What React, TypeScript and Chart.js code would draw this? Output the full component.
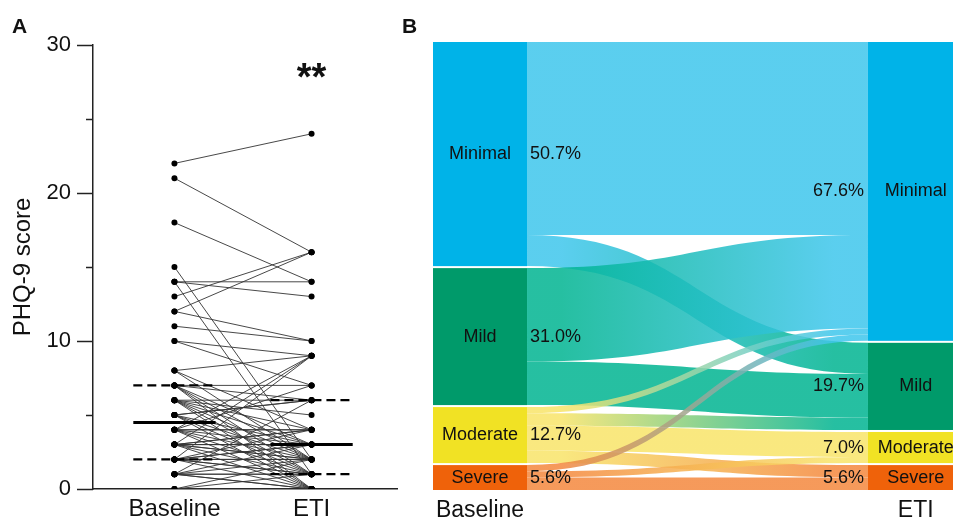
import React, { useEffect, useRef } from 'react';
import { Chart, registerables } from 'chart.js';

Chart.register(...registerables);

const FONT = '"Liberation Sans", Arial, Helvetica, sans-serif';

// ---------- Panel A data (paired PHQ-9 scores, n = 71) ----------
const groupLabels = ['Baseline', 'ETI'];
const baselineScores = [
  22, 21, 18, 15,
  14, 14, 14, 13, 12, 12, 11, 10, 10,
  8, 8, 8, 7, 7, 7, 7, 7, 7, 6, 6, 6, 6, 6, 6, 6, 5, 5, 5, 5, 5, 5,
  4, 3, 2, 4, 1,
  0, 0, 0, 1, 1, 1, 1, 1, 1, 2, 2, 2, 2, 2, 2, 2, 2, 3, 3, 3, 3, 3, 3, 3, 3, 4, 4, 4, 4, 4, 4,
];
const etiScores = [
  24, 16, 14, 2,
  14, 13, 1, 16, 16, 10, 10, 7, 9,
  9, 4, 2, 7, 6, 3, 1, 0, 2, 6, 5, 3, 0, 4, 2, 1, 6, 6, 3, 0, 2, 1,
  9, 9, 9, 7, 6,
  0, 1, 2, 0, 0, 1, 1, 2, 3, 0, 1, 1, 2, 2, 3, 3, 4, 0, 1, 2, 2, 3, 3, 4, 4, 0, 1, 2, 3, 4, 4,
];
const baselineQuartiles = [2, 4.5, 7]; // Q1, median, Q3
const etiQuartiles = [1, 3, 6];
const yTickLabels = [0, 10, 20, 30];
const yAxisTitle = 'PHQ-9 score';
const significanceLabel = '**';

// ---------- Panel B data ----------
const severityLabels = ['Minimal', 'Mild', 'Moderate', 'Severe'];
const severityLowerBounds = [0, 5, 10, 15];
const sankeyColumnLabels = ['Baseline', 'ETI'];

const nodeColors = ['#00b3e8', '#009a6a', '#f1e224', '#ef620a'];
const flowColors = [
  'rgba(62,198,236,0.85)',
  'rgba(0,180,145,0.85)',
  'rgba(248,228,105,0.85)',
  'rgba(244,136,62,0.85)',
];

const NODE_GAP = 0.32;
const BASE_NODE = [0, 0.1808];
const ETI_NODE = [0.8365, 1.02];

const severityOf = (v: number) =>
  severityLowerBounds.reduce((acc, b, i) => (v >= b ? i : acc), 0);

function PanelA() {
  const ref = useRef<HTMLCanvasElement>(null);
  useEffect(() => {
    const canvas = ref.current!;
    const half = 0.3;
    const summary = (center: number, q: number[]) =>
      q.map((v, k) => ({
        data: [
          { x: center - half, y: v },
          { x: center + half, y: v },
        ],
        showLine: true,
        borderColor: '#000',
        borderWidth: k === 1 ? 3 : 2.2,
        borderDash: k === 1 ? [] : [9, 5],
        pointRadius: 0,
        pointHoverRadius: 0,
      }));
    const pairs = baselineScores.map((b, i) => ({
      data: [
        { x: 0, y: b },
        { x: 1, y: etiScores[i] },
      ],
      showLine: true,
      borderColor: '#333',
      borderWidth: 0.9,
      pointRadius: 3,
      pointHoverRadius: 3,
      pointBackgroundColor: '#000',
      pointBorderColor: '#000',
      pointBorderWidth: 0,
    }));

    const panelAPlugin = {
      id: 'panelAExtras',
      afterDraw(chart: any) {
        const { ctx, chartArea, scales } = chart;
        const x = scales.x;
        const y = scales.y;
        ctx.save();
        ctx.strokeStyle = '#222';
        ctx.lineWidth = 1.5;
        for (let v = 0; v <= 30; v += 5) {
          const py = Math.round(y.getPixelForValue(v)) + 0.5;
          const len = v % 10 === 0 ? 16 : 7;
          ctx.beginPath();
          ctx.moveTo(chartArea.left - len, py);
          ctx.lineTo(chartArea.left, py);
          ctx.stroke();
        }
        ctx.fillStyle = '#111';
        ctx.font = `bold 38px ${FONT}`;
        ctx.textAlign = 'center';
        ctx.textBaseline = 'alphabetic';
        ctx.fillText(significanceLabel, x.getPixelForValue(1), chartArea.top + 45);
        ctx.font = `bold 21px ${FONT}`;
        ctx.textAlign = 'left';
        ctx.fillText('A', 12, 33);
        ctx.restore();
      },
    };

    const chart = new Chart(canvas, {
      type: 'scatter',
      data: { datasets: [...summary(0, baselineQuartiles), ...summary(1, etiQuartiles), ...pairs] as any },
      options: {
        animation: false,
        responsive: false,
        maintainAspectRatio: false,
        layout: { padding: { top: 45, right: 0, left: 0, bottom: 0 } },
        plugins: { legend: { display: false }, tooltip: { enabled: false } },
        scales: {
          x: {
            type: 'linear',
            min: -0.594,
            max: 1.623,
            grid: { display: false, drawTicks: false },
            border: { display: true, color: '#222', width: 1.5 },
            afterBuildTicks: (s: any) => {
              s.ticks = groupLabels.map((_, i) => ({ value: i }));
            },
            ticks: {
              autoSkip: false,
              maxRotation: 0,
              padding: 6,
              color: '#111',
              font: { size: 24, family: FONT },
              callback: (v: any) => groupLabels[v] ?? '',
            },
            afterFit: (s: any) => {
              s.height = 30;
              s.paddingLeft = 0;
              s.paddingRight = 0;
            },
          },
          y: {
            type: 'linear',
            min: 0,
            max: 30,
            grid: { display: false, drawTicks: false },
            border: { display: true, color: '#222', width: 1.5 },
            ticks: {
              stepSize: 5,
              autoSkip: false,
              padding: 22,
              color: '#111',
              font: { size: 22, family: FONT },
              callback: (v: any) => (yTickLabels.includes(v) ? String(v) : ''),
            },
            title: {
              display: true,
              text: yAxisTitle,
              color: '#111',
              font: { size: 24, family: FONT },
              padding: { top: 9, bottom: 0 },
            },
            afterFit: (s: any) => {
              s.width = 93;
              s.paddingTop = 0;
              s.paddingBottom = 0;
            },
          },
        },
      } as any,
      plugins: [panelAPlugin],
    });
    return () => chart.destroy();
  }, []);
  return (
    <canvas
      ref={ref}
      width={400}
      height={519}
      style={{ position: 'absolute', left: 0, top: 0, width: 400, height: 519 }}
    />
  );
}

function PanelB() {
  const ref = useRef<HTMLCanvasElement>(null);
  useEffect(() => {
    const canvas = ref.current!;
    const n = baselineScores.length;

    const sankeyPlugin = {
      id: 'sankey',
      afterDraw(chart: any) {
        const { ctx, scales } = chart;
        const x = scales.x;
        const y = scales.y;
        const k = severityLabels.length;
        const flows = severityLabels.map(() => severityLabels.map(() => 0));
        const baseCounts = severityLabels.map(() => 0);
        const etiCounts = severityLabels.map(() => 0);
        baselineScores.forEach((b, i) => {
          const s = severityOf(b);
          const t = severityOf(etiScores[i]);
          flows[s][t]++;
          baseCounts[s]++;
          etiCounts[t]++;
        });
        const tops = (counts: number[]) => {
          let acc = 0;
          return counts.map((c) => {
            const t = acc;
            acc += c + NODE_GAP;
            return t;
          });
        };
        const baseTops = tops(baseCounts);
        const etiTops = tops(etiCounts);
        const outOff = [...baseTops];
        const inOff = [...etiTops];
        const list: any[] = [];
        for (let s = 0; s < k; s++)
          for (let t = 0; t < k; t++) {
            const f = flows[s][t];
            if (!f) continue;
            list.push({ s, t, f, a0: outOff[s] });
            outOff[s] += f;
          }
        for (let t = 0; t < k; t++)
          for (let s = 0; s < k; s++) {
            const item = list.find((o) => o.s === s && o.t === t);
            if (!item) continue;
            item.b0 = inOff[t];
            inOff[t] += item.f;
          }

        const xs = x.getPixelForValue(BASE_NODE[1]);
        const xt = x.getPixelForValue(ETI_NODE[0]);
        const xm = (xs + xt) / 2;
        ctx.save();
        list.forEach(({ s, t, f, a0, b0 }) => {
          const ys0 = y.getPixelForValue(a0);
          const ys1 = y.getPixelForValue(a0 + f);
          const yt0 = y.getPixelForValue(b0);
          const yt1 = y.getPixelForValue(b0 + f);
          const g = ctx.createLinearGradient(xs, 0, xt, 0);
          g.addColorStop(0.1, flowColors[s]);
          g.addColorStop(0.9, flowColors[t]);
          ctx.fillStyle = g;
          ctx.beginPath();
          ctx.moveTo(xs, ys0);
          ctx.bezierCurveTo(xm, ys0, xm, yt0, xt, yt0);
          ctx.lineTo(xt, yt1);
          ctx.bezierCurveTo(xm, yt1, xm, ys1, xs, ys1);
          ctx.closePath();
          ctx.fill();
        });

        // nodes
        const drawNodes = (span: number[], topsArr: number[], counts: number[]) => {
          const x0 = x.getPixelForValue(span[0]);
          const x1 = x.getPixelForValue(span[1]);
          counts.forEach((c, i) => {
            const y0 = y.getPixelForValue(topsArr[i]);
            const y1 = y.getPixelForValue(topsArr[i] + c);
            ctx.fillStyle = nodeColors[i];
            ctx.fillRect(x0, y0, x1 - x0, y1 - y0);
          });
        };
        drawNodes(BASE_NODE, baseTops, baseCounts);
        drawNodes(ETI_NODE, etiTops, etiCounts);

        // labels
        ctx.fillStyle = '#111';
        ctx.font = `18px ${FONT}`;
        ctx.textBaseline = 'middle';
        const bxc = x.getPixelForValue((BASE_NODE[0] + BASE_NODE[1]) / 2);
        const exc = x.getPixelForValue((ETI_NODE[0] + ETI_NODE[1]) / 2);
        severityLabels.forEach((lab, i) => {
          const by = y.getPixelForValue(baseTops[i] + baseCounts[i] / 2);
          const ey = y.getPixelForValue(etiTops[i] + etiCounts[i] / 2);
          ctx.textAlign = 'center';
          ctx.fillText(lab, bxc, by);
          ctx.fillText(lab, exc, ey);
          ctx.textAlign = 'left';
          ctx.fillText(((baseCounts[i] / n) * 100).toFixed(1) + '%', xs + 3, by);
          ctx.textAlign = 'right';
          ctx.fillText(((etiCounts[i] / n) * 100).toFixed(1) + '%', xt - 4, ey);
        });
        ctx.font = `23px ${FONT}`;
        ctx.textAlign = 'center';
        ctx.textBaseline = 'alphabetic';
        ctx.fillText(sankeyColumnLabels[0], bxc, 517);
        ctx.fillText(sankeyColumnLabels[1], exc, 517);
        ctx.font = `bold 21px ${FONT}`;
        ctx.textAlign = 'left';
        ctx.fillText('B', 2, 33);
        ctx.restore();
      },
    };

    const chart = new Chart(canvas, {
      type: 'scatter',
      data: { datasets: [{ data: [] }] },
      options: {
        animation: false,
        responsive: false,
        maintainAspectRatio: false,
        layout: { padding: { left: 33, right: 0, top: 42, bottom: 29 } },
        plugins: { legend: { display: false }, tooltip: { enabled: false } },
        scales: {
          x: { type: 'linear', min: 0, max: 1, display: false },
          y: {
            type: 'linear',
            min: 0,
            max: baselineScores.length + (severityLabels.length - 1) * NODE_GAP,
            reverse: true,
            display: false,
          },
        },
      } as any,
      plugins: [sankeyPlugin],
    });
    return () => chart.destroy();
  }, []);
  return (
    <canvas
      ref={ref}
      width={553}
      height={519}
      style={{ position: 'absolute', left: 400, top: 0, width: 553, height: 519 }}
    />
  );
}

export default function App() {
  return (
    <div
      style={{
        position: 'fixed',
        left: 0,
        top: 0,
        width: 953,
        height: 519,
        background: '#fff',
        overflow: 'hidden',
      }}
    >
      <PanelA />
      <PanelB />
    </div>
  );
}
